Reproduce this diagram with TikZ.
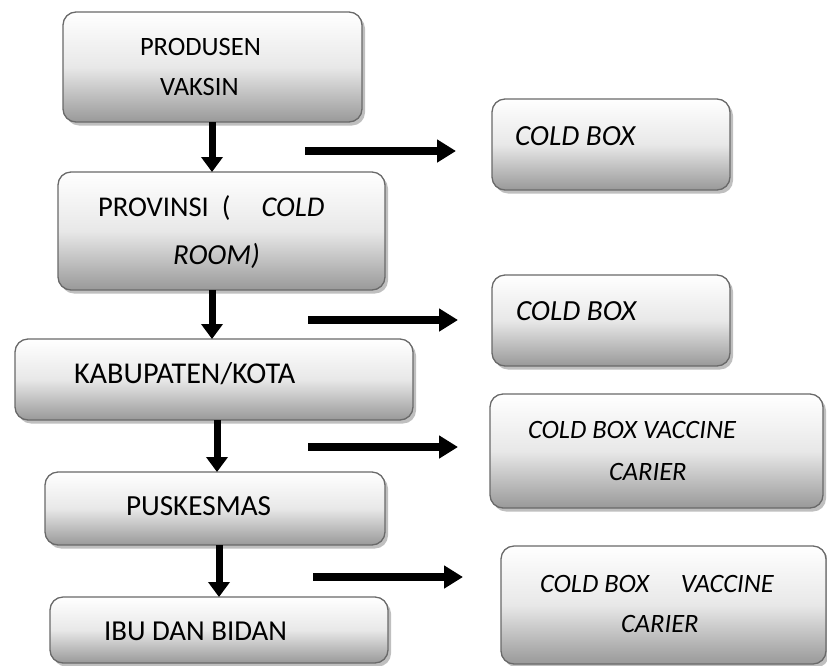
\documentclass[tikz,border=0pt]{standalone}
\usepackage{fontspec}
\setmainfont{Carlito}
\usetikzlibrary{shadows,arrows.meta}
\begin{document}
\begin{tikzpicture}[x=1pt,y=-1pt,
  box/.style={draw={rgb,255:red,105;green,105;blue,105}, line width=1.3pt,
    rounded corners=13pt, top color=white, bottom color=gray!80, middle color=gray!18,
    drop shadow={shadow xshift=3pt, shadow yshift=-3.5pt, fill=gray!50, opacity=1},
    inner sep=0pt, outer sep=0pt},
  lbl/.style={anchor=base west, inner sep=0pt, outer sep=0pt, font=\fontsize{#1}{#1}\selectfont},
  lbl/.default=26.5,
  darrow/.style={line width=7pt, -{Triangle[width=21pt,length=15pt]}},
  rarrow/.style={line width=8pt, -{Triangle[width=22pt,length=19pt]}}]
\useasboundingbox (0,0) rectangle (827,665);
% main chain
\node[box, minimum width=299pt, minimum height=110pt] (b1) at (212.5,67) {};
\node[box, minimum width=327pt, minimum height=118pt] (b2) at (221.5,231) {};
\node[box, minimum width=398pt, minimum height=81pt] (b3) at (214,379.5) {};
\node[box, minimum width=340pt, minimum height=73pt] (b4) at (215,508.5) {};
\node[box, minimum width=338pt, minimum height=66pt] (b5) at (219,630) {};
% side boxes
\node[box, minimum width=238pt, minimum height=91pt] (r1) at (611,144.5) {};
\node[box, minimum width=238pt, minimum height=91pt] (r2) at (611,320.5) {};
\node[box, minimum width=333pt, minimum height=114pt] (r3) at (656.5,451) {};
\node[box, minimum width=325pt, minimum height=118pt] (r4) at (663.5,605) {};
% labels
\node[lbl] (t1a) at (140,55) {PRODUSEN};
\node[lbl] (t1b) at (160,95) {VAKSIN};
\node[lbl=28.6] (t2a) at (98,216) {PROVINSI\hspace{13pt}(\hspace{31pt}\textit{COLD}};
\node[lbl=29] (t2b) at (173,264) {\textit{ROOM)}};
\node[lbl=30.2] (t3) at (74,383) {KABUPATEN/KOTA};
\node[lbl=29.2] (t4) at (126,515) {PUSKESMAS};
\node[lbl=28.9] (t5) at (104,640) {IBU DAN BIDAN};
\node[lbl=29.2] (s1) at (515,145) {\textit{COLD BOX}};
\node[lbl=29.2] (s2) at (516,320) {\textit{COLD BOX}};
\node[lbl] (s3a) at (528,438) {\textit{COLD BOX VACCINE}};
\node[lbl] (s3b) at (609,480) {\textit{CARIER}};
\node[lbl] (s4a) at (540,592) {\textit{COLD BOX}\hspace{31pt}\textit{VACCINE}};
\node[lbl] (s4b) at (621,632) {\textit{CARIER}};
% vertical arrows
\draw[darrow] (b1.south -| 212,0) -- (b2.north -| 212,0);
\draw[darrow] (b2.south -| 212,0) -- (b3.north -| 212,0);
\draw[darrow] (b3.south -| 217,0) -- (b4.north -| 217,0);
\draw[darrow] (b4.south -| 219,0) -- (b5.north -| 219,0);
% side arrows
\coordinate (a1s) at (305,151); \coordinate (a1e) at (456,151);
\coordinate (a2s) at (308,320); \coordinate (a2e) at (458,320);
\coordinate (a3s) at (308,447); \coordinate (a3e) at (458,447);
\coordinate (a4s) at (313,577); \coordinate (a4e) at (463,577);
\draw[rarrow] (a1s) -- (a1e);
\draw[rarrow] (a2s) -- (a2e);
\draw[rarrow] (a3s) -- (a3e);
\draw[rarrow] (a4s) -- (a4e);
\end{tikzpicture}
\end{document}
